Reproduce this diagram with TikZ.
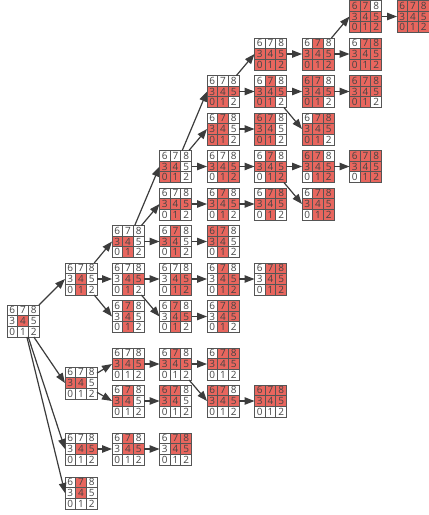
\documentclass[tikz,border=0pt]{standalone}
\usepackage{fontspec}
\setmainfont{Open Sans}
\usetikzlibrary{arrows.meta}
\definecolor{cellred}{HTML}{E8665E}
\definecolor{lineg}{HTML}{555555}
\definecolor{arrowg}{HTML}{3C3C3C}
\definecolor{digitg}{HTML}{444444}
\tikzset{
  gridbox/.style={rectangle, minimum width=32pt, minimum height=32pt, inner sep=0pt, outer sep=0pt, anchor=north west},
  cellbox/.style={draw=lineg, line width=0.8pt},
  celltext/.style={font=\fontsize{10}{10}\selectfont, text=digitg, inner sep=0pt},
  edge/.style={draw=arrowg, line width=1.2pt, -{Triangle[length=10pt,width=7.5pt]}},
}
\newcommand\pgrid[4]{%
  \node[gridbox] (#1) at (#2,#3) {};
  \foreach \c in {#4}{%
    \pgfmathtruncatemacro\cx{mod(\c,3)}%
    \pgfmathtruncatemacro\ry{2-div(\c,3)}%
    \fill[cellred] (#2+\cx*10.6667,#3+\ry*10.6667) rectangle ++(10.6667,10.6667);
  }%
  \foreach \c in {0,...,8}{%
    \pgfmathtruncatemacro\cx{mod(\c,3)}%
    \pgfmathtruncatemacro\ry{2-div(\c,3)}%
    \draw[cellbox] (#2+\cx*10.6667,#3+\ry*10.6667) rectangle ++(10.6667,10.6667);
    \node[celltext] (#1-\c) at (#2+\cx*10.6667+5.3333,#3+\ry*10.6667+5.3333) {\c};
  }%
}
\begin{document}
\begin{tikzpicture}[x=1pt,y=-1pt]
\useasboundingbox (0,0) rectangle (429,515);
\pgrid{root}{7}{305}{4}
\pgrid{A}{65}{263}{4,1}
\pgrid{B}{65}{367}{3,4}
\pgrid{C}{65}{433}{4,5}
\pgrid{D}{65}{477}{7,4}
\pgrid{A1}{112}{225.5}{3,4,1}
\pgrid{A2}{112}{263}{4,5,1}
\pgrid{A3}{112}{300.5}{7,4,1}
\pgrid{Ga}{159.5}{150.5}{3,4,0,1}
\pgrid{Gb}{159.5}{188}{3,4,5,1}
\pgrid{Gc}{159.5}{225.5}{7,3,4,1}
\pgrid{Gd}{159.5}{263}{4,5,1,2}
\pgrid{Ge}{159.5}{300.5}{7,4,5,1}
\pgrid{Ha}{207}{75.5}{3,4,5,0,1}
\pgrid{Hb}{207}{113}{7,3,4,0,1}
\pgrid{Hc}{207}{150.5}{3,4,5,1,2}
\pgrid{Hd}{207}{188}{7,3,4,5,1}
\pgrid{He}{207}{225.5}{6,7,3,4,1}
\pgrid{Hf}{207}{263}{7,4,5,1,2}
\pgrid{Hg}{207}{300.5}{7,8,4,5,1}
\pgrid{Ia}{254.5}{38}{3,4,5,0,1,2}
\pgrid{Ib}{254.5}{75.5}{7,3,4,5,0,1}
\pgrid{Ic}{254.5}{113}{6,7,3,4,0,1}
\pgrid{Id}{254.5}{150.5}{7,3,4,5,1,2}
\pgrid{Ie}{254.5}{188}{7,8,3,4,5,1}
\pgrid{If}{254.5}{263}{7,8,4,5,1,2}
\pgrid{Ja}{302}{38}{7,3,4,5,0,1,2}
\pgrid{Jb}{302}{75.5}{6,7,3,4,5,0,1}
\pgrid{Jc}{302}{113}{7,8,3,4,5,0,1}
\pgrid{Jd}{302}{150.5}{6,7,3,4,5,1,2}
\pgrid{Je}{302}{188}{7,8,3,4,5,1,2}
\pgrid{Ka}{349.5}{0.5}{6,7,3,4,5,0,1,2}
\pgrid{Kb}{349.5}{38}{7,8,3,4,5,0,1,2}
\pgrid{Kc}{349.5}{75.5}{6,7,8,3,4,5,0,1}
\pgrid{Kd}{349.5}{150.5}{6,7,8,3,4,5,1,2}
\pgrid{La}{397}{0.5}{0,1,2,3,4,5,6,7,8}
\pgrid{B1}{112}{348}{3,4,5}
\pgrid{B2}{112}{385}{7,3,4}
\pgrid{B11}{159.5}{348}{7,3,4,5}
\pgrid{B21}{159.5}{385}{6,7,3,4}
\pgrid{B111}{207}{348}{7,8,3,4,5}
\pgrid{B112}{207}{385}{6,7,3,4,5}
\pgrid{B1121}{254.5}{385}{6,7,8,3,4,5}
\pgrid{C1}{112}{433}{7,4,5}
\pgrid{C11}{159.5}{433}{7,8,4,5}
% edges
\foreach \s/\t in {root/A, root/B, root/C, root/D,
  A/A1, A/A2, A/A3,
  A1/Ga, A1/Gb, A1/Gc,
  Ga/Ha, Ga/Hb, Ga/Hc, Gb/Hd, Gc/He,
  Ha/Ia, Ha/Ib, Hb/Ic, Hc/Id, Hd/Ie,
  Ia/Ja, Ib/Jb, Ib/Jc, Id/Jd, Id/Je,
  Ja/Ka, Ja/Kb, Jb/Kc, Jd/Kd, Ka/La,
  A2/Gd, A2/Ge, Gd/Hf, Hf/If, Ge/Hg,
  B/B1, B/B2, B1/B11, B11/B111, B11/B112, B112/B1121, B2/B21,
  C/C1, C1/C11}
  \draw[edge] (\s) -- (\t.west);
\end{tikzpicture}
\end{document}
